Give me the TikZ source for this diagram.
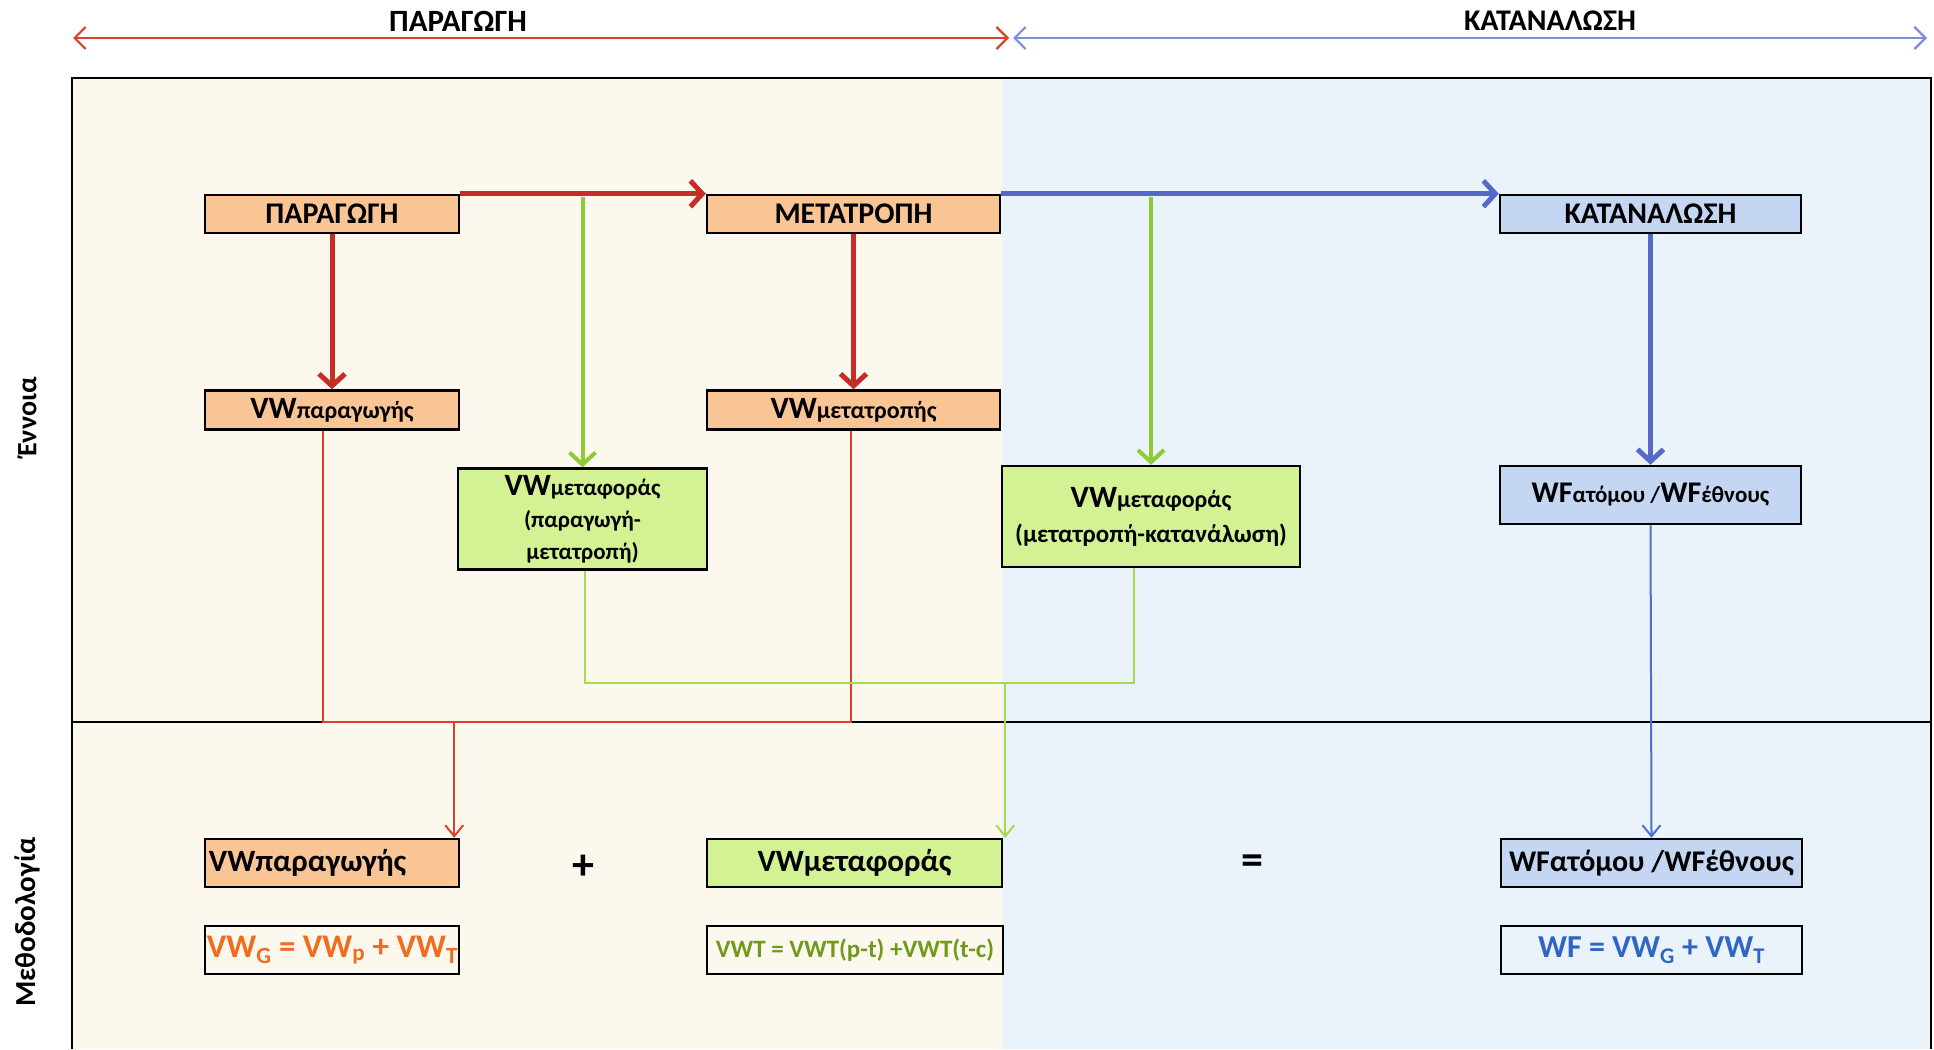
\documentclass[tikz,border=0pt]{standalone}
\usepackage{fontspec}
\setmainfont{Carlito}
\usetikzlibrary{arrows.meta,calc}

\definecolor{peachfill}{HTML}{F9C595}
\definecolor{limefill}{HTML}{D3F294}
\definecolor{bluefill}{HTML}{C5D6F3}
\definecolor{creambg}{HTML}{FDF8EE}
\definecolor{skybg}{HTML}{EBF3FA}
\definecolor{darkred}{HTML}{C62D28}
\definecolor{lightred}{HTML}{D9432B}
\definecolor{limeline}{HTML}{8CCB35}
\definecolor{limethin}{HTML}{A9D94C}
\definecolor{royal}{HTML}{5768C9}
\definecolor{royalthin}{HTML}{4F6FD2}
\definecolor{spanblue}{HTML}{7A90DA}
\definecolor{orangetxt}{HTML}{F26B1F}
\definecolor{olivetxt}{HTML}{6F9A1C}
\definecolor{bluetxt}{HTML}{2F66C6}

\newcommand{\setpx}[1]{\fontsize{#1}{#1}\selectfont}

\tikzset{
  box/.style={draw=black, line width=2.5pt, inner sep=0pt, align=center},
  peachbox/.style={box, fill=peachfill},
  limebox/.style={box, fill=limefill},
  bluebox/.style={box, fill=bluefill},
  formbox/.style={box},
  thickred/.style={draw=darkred, line width=5pt, -{Straight Barb[length=12pt,width=26pt]}},
  thickgreen/.style={draw=limeline, line width=4pt, -{Straight Barb[length=12pt,width=26pt]}},
  thickblue/.style={draw=royal, line width=5pt, -{Straight Barb[length=12pt,width=26pt]}},
  thinred/.style={draw=lightred, line width=2pt},
  thingreen/.style={draw=limethin, line width=2pt},
  thinblue/.style={draw=royalthin, line width=2pt},
  thintip/.style={-{Straight Barb[length=11pt,width=18pt]}},
  spanred/.style={draw=lightred, line width=2.2pt, {Straight Barb[length=11pt,width=22pt]}-{Straight Barb[length=11pt,width=22pt]}},
  spanblue/.style={draw=spanblue, line width=2.2pt, {Straight Barb[length=11pt,width=22pt]}-{Straight Barb[length=11pt,width=22pt]}},
}

\begin{document}
\begin{tikzpicture}[x=1pt,y=-1pt]
\useasboundingbox (0,0) rectangle (1934,1049);

% two coloured halves of the frame
\fill[creambg] (72,78) rectangle (1002,1049);
\fill[skybg] (1002,78) rectangle (1931,1049);
\draw[line width=2pt] (72,1049) -- (72,78) -- (1931,78) -- (1931,1049);
\draw[line width=2pt] (72,722) -- (1931,722);

% span arrows at the top
\coordinate (pl) at (73,38);
\coordinate (pr) at (1009,38);
\coordinate (kl) at (1013,38);
\coordinate (kr) at (1927,38);
\draw[spanred] (pl) -- (pr);
\draw[spanblue] (kl) -- (kr);
\node[font=\setpx{31}\bfseries] (tp) at (458,21) {ΠΑΡΑΓΩΓΗ};
\node[font=\setpx{30}\bfseries] (tk) at (1550,21) {ΚΑΤΑΝΑΛΩΣΗ};

% row labels
\node[rotate=90, font=\setpx{28}\bfseries] (lc) at (27,417) {Έννοια};
\node[rotate=90, font=\setpx{29}\bfseries] (lm) at (27,922) {Μεθοδολογία};

% concept part
\node[peachbox, minimum width=254pt, minimum height=38pt, font=\setpx{30}\bfseries] (para) at (332,214) {ΠΑΡΑΓΩΓΗ};
\node[peachbox, minimum width=293pt, minimum height=38pt, font=\setpx{30}\bfseries] (metat) at (853.5,214) {ΜΕΤΑΤΡΟΠΗ};
\node[bluebox, minimum width=301pt, minimum height=38pt, font=\setpx{30}\bfseries] (kat) at (1650.5,214) {ΚΑΤΑΝΑΛΩΣΗ};

\node[peachbox, minimum width=254pt, minimum height=39pt, font=\bfseries] (vwp) at (332,410) {{\setpx{31}VW}{\setpx{24}παραγωγής}};
\node[peachbox, minimum width=293pt, minimum height=39pt, font=\bfseries] (vwm) at (853.5,410) {{\setpx{31}VW}{\setpx{24}μετατροπής}};

\node[limebox, minimum width=249pt, minimum height=101pt, font=\fontsize{23}{32}\selectfont\bfseries] (vwt1) at (582.5,519)
  {{\setpx{31}VW}{\setpx{23}μεταφοράς}\\{\setpx{23}(παραγωγή-}\\{\setpx{23}μετατροπή)}};
\node[limebox, minimum width=298pt, minimum height=101pt, font=\fontsize{25}{35}\selectfont\bfseries] (vwt2) at (1151,516.5)
  {{\setpx{31}VW}{\setpx{24}μεταφοράς}\\{\setpx{25}(μετατροπή-κατανάλωση)}};
\node[bluebox, minimum width=301pt, minimum height=58pt, font=\bfseries] (wfU) at (1650.5,495)
  {{\setpx{30}WF}{\setpx{23}ατόμου /}{\setpx{30}WF}{\setpx{23}έθνους}};

% methodology part
\node[peachbox, minimum width=254pt, minimum height=48pt] (vwpL) at (332,863) {};
\node[anchor=west, font=\setpx{31}\bfseries, inner sep=0pt] (vwpT) at ($(vwpL.west)+(5,0)$) {VWπαραγωγής};
\node[limebox, minimum width=295pt, minimum height=48pt, font=\setpx{31}\bfseries] (vwtL) at (854.5,863) {VWμεταφοράς};
\node[bluebox, minimum width=301pt, minimum height=48pt, font=\setpx{30}\bfseries] (wfL) at (1651.5,863) {WFατόμου /WFέθνους};

\node[font=\setpx{44}\bfseries] (plus) at (583,867) {+};
\node[font=\setpx{44}\bfseries] (eq) at (1252,865) {=};

% formula boxes; the first formula runs into its right border and is clipped there
\node[formbox, minimum width=254pt, minimum height=48pt] (fG) at (332,950) {};
\begin{scope}
  \clip (fG.south west) rectangle (fG.north east);
  \node[anchor=west, inner sep=0pt, text=orangetxt, font=\setpx{33}\bfseries] (fGt) at ($(fG.west)+(3,0)$)
    {VW\textsubscript{G} = VW\textsubscript{p} + VW\textsubscript{T}};
\end{scope}
\node[formbox, minimum width=296pt, minimum height=48pt, text=olivetxt, font=\setpx{25}\bfseries] (fT) at (855,950)
  {VWT = VWT(p-t) +VWT(t-c)};
\node[formbox, minimum width=301pt, minimum height=48pt, text=bluetxt, font=\setpx{32}\bfseries] (fF) at (1651.5,950)
  {WF = VW\textsubscript{G} + VW\textsubscript{T}};

% thick flow arrows
\draw[thickred] (para.north east) -- (metat.north west);
\draw[thickblue] (metat.north east) -- (kat.north west);
\draw[thickred] (para.south) -- (vwp.north);
\draw[thickred] (metat.south) -- (vwm.north);
\draw[thickblue] (kat.south) -- (wfU.north);
\draw[thickgreen] ($(vwt1.north |- para.north)+(0,3)$) -- (vwt1.north);
\draw[thickgreen] ($(vwt2.north |- metat.north)+(0,3)$) -- (vwt2.north);

% thin links from concepts to methodology
\coordinate (ry) at (0,722);
\coordinate (gy) at (0,683);
\coordinate (r1) at ($(vwp.south)+(-9,0)$);
\coordinate (r2) at ($(vwm.south)+(-3,0)$);
\coordinate (r3) at ($(vwpL.north east)+(-6,0)$);
\draw[thinred] (r1) -- (r1 |- ry) -- (r2 |- ry) -- (r2);
\draw[thinred, thintip] (r3 |- ry) -- (r3);

\coordinate (g1) at ($(vwt1.south)+(2,0)$);
\coordinate (g2) at ($(vwt2.south)+(-17,0)$);
\coordinate (g3) at ($(vwtL.north east)+(2,0)$);
\draw[thingreen] (g1) -- (g1 |- gy) -- (g2 |- gy) -- (g2);
\draw[thingreen, thintip] (g3 |- gy) -- (g3);

\draw[thinblue, thintip] (wfU.south) -- (wfL.north);
\end{tikzpicture}
\end{document}
